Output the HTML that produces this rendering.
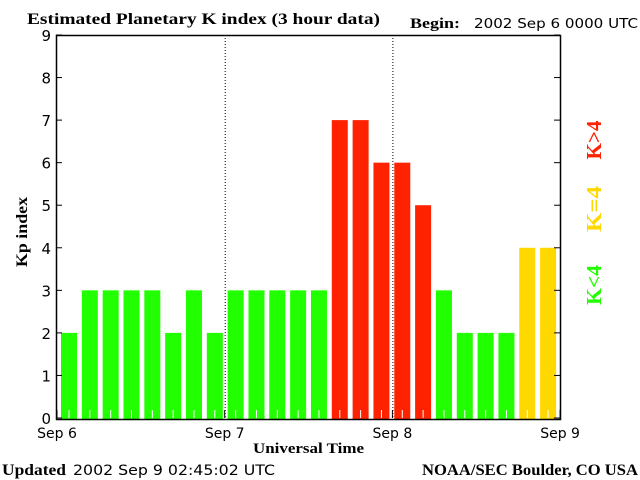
<!DOCTYPE html>
<html><head><meta charset="utf-8"><style>
body{margin:0;background:#fff;}
svg{display:block;}
.sans{font-family:"DejaVu Sans","Liberation Sans",sans-serif;}
.serif{font-family:"Liberation Serif","DejaVu Serif",serif;font-weight:bold;}
</style></head><body>
<svg id="chart" width="640" height="480" viewBox="0 0 640 480">
<text x="27" y="24" class="serif" font-size="16" textLength="353" lengthAdjust="spacingAndGlyphs">Estimated Planetary K index (3 hour data)</text>
<text x="410" y="28" class="serif" font-size="15" textLength="50" lengthAdjust="spacingAndGlyphs">Begin:</text>
<text x="474" y="28" class="sans" font-size="13" textLength="164" lengthAdjust="spacingAndGlyphs">2002 Sep 6 0000 UTC</text>
<text x="27" y="232" class="serif" font-size="16" text-anchor="middle" textLength="70" lengthAdjust="spacingAndGlyphs" transform="rotate(-90 27 232)">Kp index</text>
<text x="253" y="453" class="serif" font-size="15" textLength="111" lengthAdjust="spacingAndGlyphs">Universal Time</text>
<text x="2" y="475" class="serif" font-size="16" textLength="64" lengthAdjust="spacingAndGlyphs">Updated</text>
<text x="73" y="475" class="sans" font-size="14" textLength="202" lengthAdjust="spacingAndGlyphs">2002 Sep  9 02:45:02 UTC</text>
<text x="422" y="475" class="serif" font-size="16" textLength="216" lengthAdjust="spacingAndGlyphs">NOAA/SEC Boulder, CO USA</text>
<g class="serif" font-size="21" text-anchor="middle">
<text x="608" y="147" fill="#ff2200" textLength="39" lengthAdjust="spacingAndGlyphs" transform="rotate(-90 601 147)">K&gt;4</text>
<text x="608" y="216" fill="#ffd800" textLength="46" lengthAdjust="spacingAndGlyphs" transform="rotate(-90 601 216)">K=4</text>
<text x="608" y="292" fill="#22ff00" textLength="40" lengthAdjust="spacingAndGlyphs" transform="rotate(-90 601 292)">K&lt;4</text>
</g>
<g id="bars"></g>
<g id="axes"></g>
</svg>
<script>
const kpValues = [2,3,3,3,3,2,3,2, 3,3,3,3,3,7,7,6, 6,5,3,2,2,2,4,4];
const yTicks = [0,1,2,3,4,5,6,7,8,9];
const dayLabels = ["Sep 6","Sep 7","Sep 8","Sep 9"];
const NS='http://www.w3.org/2000/svg';
const L=56,R=560,T=35,B=418;
function y(v){return B-(v/9)*(B-T);}
function xc(i){return 69+i*20.83;}
function xd(d){return 57+d*167.7;}
function mk(tag,attrs,parent){const e=document.createElementNS(NS,tag);for(const k in attrs)e.setAttribute(k,attrs[k]);parent.appendChild(e);return e;}
const bars=document.getElementById('bars'),axes=document.getElementById('axes');
kpValues.forEach((v,i)=>{
  const col=v<4?'#22ff00':(v===4?'#ffd800':'#ff2200');
  const r=mk('rect',{x:xc(i)-8,y:y(v),width:16,height:B-y(v)+1,fill:col},bars);
  
  
  const t=mk('line',{x1:xc(i),x2:xc(i),y1:B-8,y2:B,stroke:'#fff','stroke-width':1},bars);
  
  
});
[1,2].forEach(d=>{
  const l=mk('line',{x1:xd(d)+0.5,x2:xd(d)+0.5,y1:T,y2:B,stroke:'#000','stroke-width':1,'stroke-dasharray':'1,2'},axes);
  
  
});
const frame=mk('rect',{x:L+0.5,y:T+0.5,width:R-L,height:B-T+1,fill:'none',stroke:'#000','stroke-width':1.5},axes);


yTicks.forEach(v=>{
  const a=mk('line',{x1:L,x2:L+6,y1:y(v),y2:y(v),stroke:'#000'},axes);
  
  
  const b=mk('line',{x1:R-6,x2:R,y1:y(v),y2:y(v),stroke:'#000'},axes);
  
  
  const t=mk('text',{x:L-5,y:y(v)+6,'text-anchor':'end','font-size':15,class:'sans'},axes);
  t.textContent=v;
  
  
});
dayLabels.forEach((s,d)=>{
  const tk=mk('line',{x1:xd(d),x2:xd(d),y1:B-8,y2:B,stroke:'#000'},axes);
  
  
  const t=mk('text',{x:xd(d),y:438,'text-anchor':'middle','font-size':14,class:'sans'},axes);
  t.textContent=s;
  
  
});
</script>
</body></html>
